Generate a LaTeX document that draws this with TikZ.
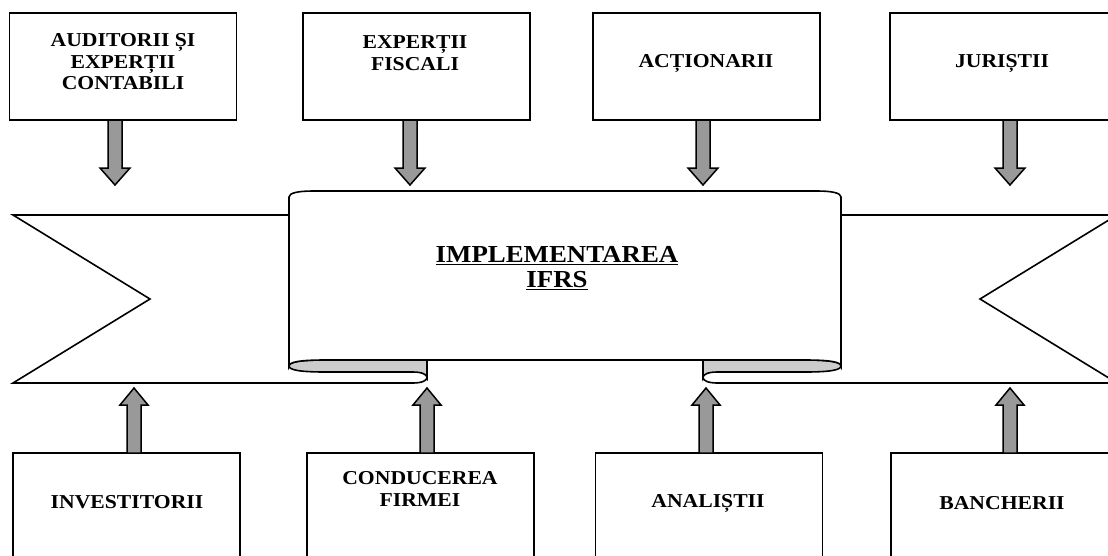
\documentclass[tikz,border=0pt]{standalone}
\usepackage{fontspec}
\setmainfont{Liberation Serif}
\newfontfamily\widefont[FakeStretch=1.1]{Liberation Serif}
\begin{document}
\begin{tikzpicture}[x=1pt,y=-1pt,
  box/.style={draw,line width=1.8pt,fill=white,minimum width=227pt,minimum height=107pt,inner sep=0pt},
  lbl/.style={font=\widefont\bfseries\fontsize{19.7}{21.5}\selectfont,align=center,inner sep=0pt},
  blk/.style={draw,line width=1.5pt,fill=gray!80,line join=miter},
  rib/.style={line width=1.6pt,line join=miter},
  fold/.style={fill=gray!40}]
\useasboundingbox (0,0) rectangle (1108,555);
\clip (0,0) rectangle (1108,555);
\fill[white] (0,0) rectangle (1108,555);
% ---- top boxes
\node[box] (b1) at (123,66.5) {};
\node[box] (b2) at (416.5,66.5) {};
\node[box] (b3) at (706.5,66.5) {};
\node[box] (b4) at (1003.5,66.5) {};
\node[lbl] (t1) at (123,62) {AUDITORII ȘI\\EXPERȚII\\CONTABILI};
\node[lbl] (t2) at (415,53) {EXPERȚII\\FISCALI};
\node[lbl] (t3) at (706,63) {ACȚIONARII};
\node[lbl] (t4) at (1002,63) {JURIȘTII};
% ---- bottom boxes
\node[box] (b5) at (126.5,506.5) {};
\node[box] (b6) at (420.5,506.5) {};
\node[box] (b7) at (709,506.5) {};
\node[box] (b8) at (1004.5,506.5) {};
\node[lbl] (t5) at (127,502) {INVESTITORII};
\node[lbl] (t6) at (420,489) {CONDUCEREA\\FIRMEI};
\node[lbl] (t7) at (708,503) {ANALIȘTII};
\node[lbl] (t8) at (1002,503) {BANCHERII};
% ---- ribbon: side bands
\fill[white] (289,215) -- (13,215) -- (150,299) -- (13,383) -- (413,383)
  .. controls (422,383) and (427,380.5) .. (427,377.5) -- (427,360) -- (289,360) -- cycle;
\draw[rib] (289,215) -- (13,215) -- (150,299) -- (13,383) -- (413,383)
  .. controls (422,383) and (427,380.5) .. (427,377.5);
\fill[white] (841,215) -- (1117,215) -- (980,299) -- (1117,383) -- (717,383)
  .. controls (708,383) and (703,380.5) .. (703,377.5) -- (703,360) -- (841,360) -- cycle;
\draw[rib] (841,215) -- (1117,215) -- (980,299) -- (1117,383) -- (717,383)
  .. controls (708,383) and (703,380.5) .. (703,377.5);
% ---- folds (gray)
\path[fold,draw,rib] (289,366) .. controls (289,370) and (300,372) .. (325,372) -- (413,372)
  .. controls (422,372) and (427,374.5) .. (427,377.5) -- (427,360) -- (325,360)
  .. controls (300,360) and (289,362) .. (289,366) -- cycle;
\path[fold,draw,rib] (841,366) .. controls (841,370) and (830,372) .. (805,372) -- (717,372)
  .. controls (708,372) and (703,374.5) .. (703,377.5) -- (703,360) -- (805,360)
  .. controls (830,360) and (841,362) .. (841,366) -- cycle;
% ---- central panel
\path[draw,fill=white,rib] (289,366) -- (289,197) .. controls (289,193) and (298,191) .. (313,191)
  -- (817,191) .. controls (832,191) and (841,193) .. (841,197) -- (841,366)
  .. controls (841,362) and (830,360) .. (805,360) -- (325,360)
  .. controls (300,360) and (289,362) .. (289,366) -- cycle;
\node[font=\widefont\bfseries\fontsize{24.4}{24.5}\selectfont,align=center,inner sep=0pt] (c) at (557,268)
  {\underline{IMPLEMENTAREA}\\\underline{IFRS}};
% ---- block arrows
\newcommand\arrdn[2]{\draw[blk] ({#1-7},{#2}) -- ({#1-7},168) -- ({#1-15},168) -- (#1,185)
  -- ({#1+15},168) -- ({#1+7},168) -- ({#1+7},{#2}) -- cycle;}
\newcommand\arrup[2]{\draw[blk] ({#1-7},{#2}) -- ({#1-7},405) -- ({#1-14},405) -- (#1,388)
  -- ({#1+14},405) -- ({#1+7},405) -- ({#1+7},{#2}) -- cycle;}
\arrdn{115}{120}
\arrdn{410}{120}
\arrdn{703}{120}
\arrdn{1010}{120}
\arrup{134}{453}
\arrup{427}{453}
\arrup{706}{453}
\arrup{1010}{453}
\end{tikzpicture}
\end{document}
